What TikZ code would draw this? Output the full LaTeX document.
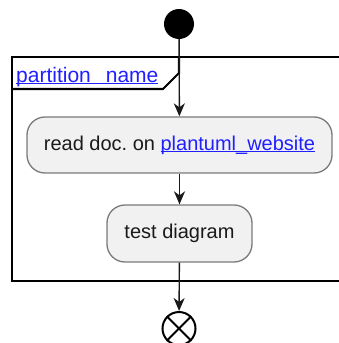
\documentclass[tikz,border=0pt]{standalone}
\usepackage{fontspec}
\setmainfont{Liberation Sans}
\usetikzlibrary{arrows.meta}
\definecolor{actfill}{HTML}{F1F1F1}
\definecolor{actborder}{HTML}{7A7A7A}
\definecolor{linkblue}{HTML}{1F1FFF}
\definecolor{txt}{HTML}{1A1A1A}
\tikzset{
  activity/.style={draw=actborder, fill=actfill, line width=1.3pt, rounded corners=18pt,
    inner sep=0pt, text=txt, font=\fontsize{20}{24}\selectfont},
  flow/.style={draw=black!90, line width=1.4pt, -{Stealth[length=13pt,width=11pt,inset=4pt]}},
  framepath/.style={draw=black, line width=2.1pt},
}
\newcommand{\lnk}[1]{\textcolor{linkblue}{\setbox0\hbox{#1}\rlap{\rule[-2.2pt]{\wd0}{1.2pt}}\box0}}
\frenchspacing
\begin{document}
\begin{tikzpicture}[x=1pt,y=-1pt]
\useasboundingbox (0,0) rectangle (339,343);
% partition frame
\draw[framepath] (339,57) -- (12,57) -- (12,281) -- (339,281);
\draw[framepath] (12,89) -- (163,89) -- (179,73) -- (179,57);
\node[anchor=base west, inner sep=0pt, font=\fontsize{21}{25}\selectfont] (pname) at (16,82)
  {\lnk{partition\hspace{15pt}name}};
% nodes
\node[circle, fill=black, minimum size=30pt, inner sep=0pt] (start) at (179,24) {};
\node[activity, minimum width=305pt, minimum height=56pt] (act1) at (179.5,145)
  {read doc. on \lnk{plantuml\_website}};
\node[activity, minimum width=145pt, minimum height=57pt] (act2) at (179.5,233.5)
  {test diagram};
\node[circle, draw=black, line width=2pt, minimum size=33pt, inner sep=0pt] (stop) at (179,328.5) {};
\draw[line width=2pt] (stop.north east) -- (stop.south west) (stop.north west) -- (stop.south east);
% connectors
\draw[flow] (start) -- (act1);
\draw[flow] (act1) -- (act2);
\draw[flow] (act2) -- (stop);
\end{tikzpicture}
\end{document}
